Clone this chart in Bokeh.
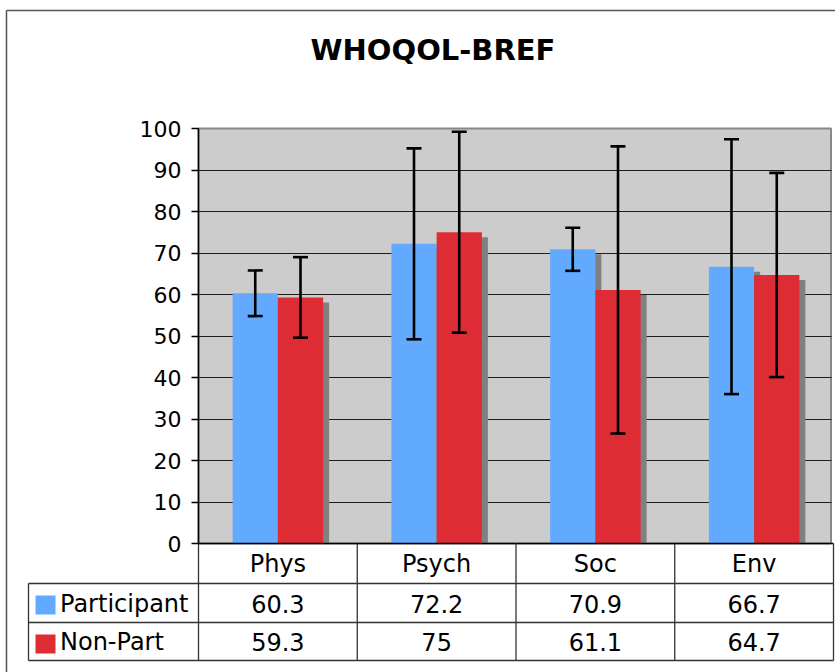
from bokeh.plotting import figure
from bokeh.models import Range1d, LinearAxis, FixedTicker, ColumnDataSource, Whisker, TeeHead
from bokeh.core.properties import value
from bokeh.embed import file_html
from bokeh.resources import INLINE

# ---------------- data ----------------
title_text = "WHOQOL-BREF"
categories = ["Phys", "Psych", "Soc", "Env"]
series_names = ["Participant", "Non-Part"]
participant = [60.3, 72.2, 70.9, 66.7]
non_part = [59.3, 75, 61.1, 64.7]
participant_err = [5.5, 23.0, 5.2, 30.7]
non_part_err = [9.7, 24.2, 34.6, 24.6]
y_ticks = [0, 10, 20, 30, 40, 50, 60, 70, 80, 90, 100]

# ---------------- style / layout ----------------
W, H = 835, 672
FONT = "DejaVu Sans"
BLUE = "#62AAFF"
RED = "#DD2C33"
SHADOW = "#808080"
PLOT_BG = "#CCCCCC"
LINE = "#333333"

PLOT_LEFT_PX = 198.0   # canvas px of x = 0
CAT_PX = 158.75        # px per category
ZERO_PX = 543.0        # canvas px (from top) of y = 0
VAL_PX = 4.15          # px per value unit


def dx(px):
    return (px - PLOT_LEFT_PX) / CAT_PX


def dy(px):
    return (ZERO_PX - px) / VAL_PX


p = figure(width=W, height=H, output_backend="svg", toolbar_location=None,
           x_axis_location=None, y_axis_location=None, title=None,
           x_range=Range1d(dx(0), dx(W)), y_range=Range1d(dy(H), dy(0)),
           min_border=0, outline_line_color=None,
           background_fill_color="white", border_fill_color="white")
p.xgrid.visible = False

plot_right = dx(830.5)

# plot area background
p.quad(left=[0], right=[plot_right], bottom=[0], top=[100], fill_color=PLOT_BG,
       line_color="#888888", line_width=2, level="image")

# horizontal grid lines
p.ygrid.ticker = FixedTicker(ticks=y_ticks[1:-1])
p.ygrid.grid_line_color = "#1e1e1e"
p.ygrid.grid_line_width = 1.2
p.ygrid.cross_bounds = (0, plot_right)

# bars
n = len(categories)
centers = [i + 0.5 for i in range(n)]
bw = 0.285
off = bw / 2
sx = 6 / CAT_PX
sy = 5 / VAL_PX
x_part = [c - off for c in centers]
x_non = [c + off for c in centers]

for xs, vals in ((x_part, participant), (x_non, non_part)):
    p.quad(left=[x - bw / 2 + sx for x in xs], right=[x + bw / 2 + sx for x in xs],
           bottom=[0] * n, top=[v - sy for v in vals], fill_color=SHADOW, line_color=None)
p.vbar(x=x_part, width=bw, top=participant, bottom=0, fill_color=BLUE, line_color=None)
p.vbar(x=x_non, width=bw, top=non_part, bottom=0, fill_color=RED, line_color=None)

# error bars
for xs, vals, errs in ((x_part, participant, participant_err), (x_non, non_part, non_part_err)):
    src = ColumnDataSource(dict(x=xs, upper=[v + e for v, e in zip(vals, errs)],
                                lower=[v - e for v, e in zip(vals, errs)]))
    w = Whisker(base="x", upper="upper", lower="lower", source=src,
                line_color="black", line_width=2.6,
                upper_head=TeeHead(size=15, line_color="black", line_width=2.6),
                lower_head=TeeHead(size=15, line_color="black", line_width=2.6))
    w.level = "annotation"
    p.add_layout(w)

# y axis
yaxis = LinearAxis(fixed_location=0, bounds=(0, 100), ticker=FixedTicker(ticks=y_ticks),
                   axis_line_color="black", axis_line_width=1.5,
                   major_tick_in=0, major_tick_out=7, major_tick_line_color="black",
                   major_tick_line_width=1.5, minor_tick_line_color=None,
                   major_label_standoff=10, major_label_text_font=FONT,
                   major_label_text_font_size="22px", major_label_text_color="black")
p.add_layout(yaxis, "left")

# data table below the chart
row_lines_px = [583, 622, 660]
table_left = dx(28)
bottom_val = dy(row_lines_px[-1])
p.segment(x0=[0], x1=[n], y0=[0], y1=[0], line_color="black", line_width=1.5)
p.segment(x0=[table_left] * 3, x1=[n] * 3, y0=[dy(r) for r in row_lines_px],
          y1=[dy(r) for r in row_lines_px], line_color=LINE, line_width=1.3)
p.segment(x0=list(range(n + 1)), x1=list(range(n + 1)), y0=[0] * (n + 1),
          y1=[bottom_val] * (n + 1), line_color=LINE, line_width=1.3)
p.segment(x0=[table_left], x1=[table_left], y0=[dy(row_lines_px[0])], y1=[bottom_val],
          line_color=LINE, line_width=1.3)

header_y = dy(563)
row_y = [dy(603.5), dy(641.5)]
p.text(x=centers, y=[header_y] * n, text=categories, text_font=value(FONT),
       text_font_size="24px", text_align="center", text_baseline="middle", text_color="black")
for ry, vals in zip(row_y, (participant, non_part)):
    p.text(x=centers, y=[ry] * n, text=[f"{v:g}" for v in vals], text_font=value(FONT),
           text_font_size="24px", text_align="center", text_baseline="middle", text_color="black")

# legend keys in table
sw_l, sw_r = dx(35), dx(55)
p.quad(left=[sw_l, sw_l], right=[sw_r, sw_r], bottom=[dy(614), dy(653)], top=[dy(595), dy(634)],
       fill_color=[BLUE, RED], line_color=None)
p.text(x=[dx(59.5)] * 2, y=row_y, text=series_names, text_font=value(FONT),
       text_font_size="24px", text_align="left", text_baseline="middle", text_color="black")

# title
p.text(x=[dx(432.5)], y=[dy(49)], text=[title_text], text_font=value(FONT),
       text_font_size="29px", text_font_style="bold", text_align="center",
       text_baseline="middle", text_color="black")

# outer chart frame (left and top edges)
p.segment(x0=[dx(6), dx(6)], x1=[dx(6), dx(W)], y0=[dy(10), dy(10)], y1=[dy(H), dy(10)],
          line_color="#555555", line_width=1.5)

open("out.html", "w").write(file_html(p, INLINE))
